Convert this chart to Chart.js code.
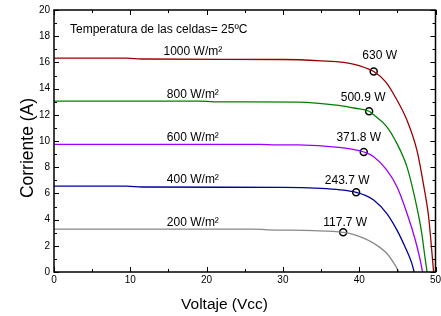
<!DOCTYPE html>
<html>
<head>
    <title>Curvas I-V</title>
    <script src="https://cdn.jsdelivr.net/npm/chart.js@4.4.0/dist/chart.umd.min.js"></script>
    <style>
        body { margin: 0; background: #fff; }
        #wrap { width: 441px; height: 316px; }
    </style>
</head>
<body>
    <div id="wrap"><canvas id="ivChart"></canvas></div>

    <script>
        // irradiance curves (V in volts, I in amps)
        var irradiance = ['1000 W/m²', '800 W/m²', '600 W/m²', '400 W/m²', '200 W/m²'];
        var curveColors = ['#990000', '#008000', '#9900ff', '#000099', '#888888'];

        var volt1000 = [0, 9.5, 11.5, 30, 35, 38, 40, 41.9, 43.5, 44.95, 46.25, 47.56, 48.4, 49.1, 49.5, 49.75];
        var amp1000  = [16.33, 16.33, 16.26, 16.22, 16.12, 16.0, 15.75, 15.3, 14.5, 13.13, 11.6, 9.3, 6.77, 4.2, 1.7, 0];

        var volt800 = [0, 19, 21, 32, 37.3, 39.5, 41.3, 41.9, 43.6, 44.95, 46.25, 47.35, 48.2, 48.6, 48.9];
        var amp800  = [13.05, 13.05, 12.99, 12.97, 12.72, 12.5, 12.27, 12.0, 11.1, 9.8, 8.04, 5.5, 2.95, 1.2, 0];

        var volt600 = [0, 27, 29, 32, 37.3, 39, 40.6, 41.9, 43.6, 44.95, 46.25, 47.35, 48.0, 48.3];
        var amp600  = [9.75, 9.75, 9.71, 9.7, 9.52, 9.38, 9.16, 8.8, 7.8, 6.5, 4.5, 2.44, 0.9, 0];

        var volt400 = [0, 9.5, 11.5, 30, 35, 37.5, 39.6, 40.8, 41.9, 43.6, 44.95, 46.0, 46.9, 47.2];
        var amp400  = [6.55, 6.55, 6.49, 6.46, 6.38, 6.27, 6.08, 5.85, 5.5, 4.48, 3.2, 1.93, 0.66, 0];

        var volt200 = [0, 26, 28, 34, 37.9, 39.2, 40.5, 41.9, 43.6, 44.7, 45.2];
        var amp200  = [3.28, 3.28, 3.22, 3.16, 3.03, 2.88, 2.6, 2.19, 1.43, 0.53, 0];

        // maximum power points
        var mppVolt = [41.9, 41.3, 40.6, 39.6, 37.9];
        var mppAmp  = [15.3, 12.27, 9.16, 6.08, 3.03];
        var mppPower = ['630 W', '500.9 W', '371.8 W', '243.7 W', '117.7 W'];

        var xTicks = [0, 10, 20, 30, 40, 50];
        var yTicks = [0, 2, 4, 6, 8, 10, 12, 14, 16, 18, 20];
        var note = 'Temperatura de las celdas= 25ºC';

        var volts = [volt1000, volt800, volt600, volt400, volt200];
        var amps = [amp1000, amp800, amp600, amp400, amp200];

        function toPoints(vs, is) {
            return vs.map(function (v, k) { return {x: v, y: is[k]}; });
        }

        var datasets = irradiance.map(function (name, k) {
            return {
                label: name,
                data: toPoints(volts[k], amps[k]),
                borderColor: curveColors[k],
                borderWidth: 1.3,
                pointRadius: 0,
                showLine: true,
                cubicInterpolationMode: 'monotone'
            };
        });
        datasets.push({
            label: 'Pmax',
            data: toPoints(mppVolt, mppAmp),
            showLine: false,
            pointRadius: 3.5,
            pointBorderWidth: 1.5,
            pointBorderColor: '#000',
            pointBackgroundColor: '#fff'
        });

        // nudges for the power labels, in pixels from each point
        var powerNudge = [[6, -16], [-6, -14], [-5, -14], [-9, -12], [2, -10]];

        var FONT = '"Liberation Sans", Arial, sans-serif';

        var framePlugin = {
            id: 'frame',
            afterDraw: function (chart) {
                var ctx = chart.ctx, a = chart.chartArea;
                var xs = chart.scales.x, ys = chart.scales.y;
                ctx.save();
                ctx.strokeStyle = '#000';
                ctx.lineWidth = 1.5;
                ctx.strokeRect(a.left, a.top, a.right - a.left, a.bottom - a.top);

                ctx.lineWidth = 1;
                ctx.beginPath();
                for (var v = 0; v <= 50; v += 5) {
                    var px = Math.round(xs.getPixelForValue(v)) + 0.5;
                    var len = v % 10 === 0 ? 5 : 3;
                    ctx.moveTo(px, a.bottom); ctx.lineTo(px, a.bottom - len);
                    ctx.moveTo(px, a.top); ctx.lineTo(px, a.top + len);
                }
                for (var i = 0; i <= 20; i += 1) {
                    var py = Math.round(ys.getPixelForValue(i)) + 0.5;
                    var l2 = i % 2 === 0 ? 5 : 3;
                    ctx.moveTo(a.left, py); ctx.lineTo(a.left + l2, py);
                    ctx.moveTo(a.right, py); ctx.lineTo(a.right - l2, py);
                }
                ctx.stroke();

                ctx.fillStyle = '#000';
                ctx.font = '10px ' + FONT;
                ctx.textAlign = 'center';
                ctx.textBaseline = 'top';
                xTicks.forEach(function (t) {
                    ctx.fillText(String(t), xs.getPixelForValue(t), a.bottom + 3);
                });
                ctx.textAlign = 'right';
                ctx.textBaseline = 'middle';
                yTicks.forEach(function (t) {
                    ctx.fillText(String(t), a.left - 4, ys.getPixelForValue(t));
                });

                // axis titles
                ctx.textAlign = 'center';
                ctx.font = '15.5px ' + FONT;
                ctx.fillText('Voltaje (Vcc)', a.left + (a.right - a.left) * 0.447, 305);
                ctx.save();
                ctx.translate(28, 148);
                ctx.rotate(-Math.PI / 2);
                ctx.font = '17.5px ' + FONT;
                ctx.fillText('Corriente (A)', 0, 0);
                ctx.restore();

                // annotations
                ctx.font = '12px ' + FONT;
                ctx.textAlign = 'left';
                ctx.fillText(note, a.left + 16, 30);

                ctx.textAlign = 'center';
                ctx.textBaseline = 'alphabetic';
                irradiance.forEach(function (name, k) {
                    ctx.fillText(name, xs.getPixelForValue(18.2), ys.getPixelForValue(amps[k][0]) - 3);
                });
                ctx.textBaseline = 'middle';
                mppPower.forEach(function (txt, k) {
                    var px = xs.getPixelForValue(mppVolt[k]) + powerNudge[k][0];
                    var py = ys.getPixelForValue(mppAmp[k]) + powerNudge[k][1];
                    ctx.fillText(txt, px, py);
                });
                ctx.restore();
            }
        };

        new Chart('ivChart', {
            type: 'scatter',
            data: {datasets: datasets},
            options: {
                responsive: true,
                maintainAspectRatio: false,
                animation: false,
                layout: {padding: {left: 54, right: 4, top: 10, bottom: 44}},
                plugins: {legend: {display: false}, tooltip: {enabled: false}},
                scales: {
                    x: {
                        type: 'linear', min: 0, max: 50,
                        ticks: {display: false},
                        grid: {display: false, drawTicks: false},
                        border: {display: false}
                    },
                    y: {
                        type: 'linear', min: 0, max: 20,
                        ticks: {display: false},
                        grid: {display: false, drawTicks: false},
                        border: {display: false}
                    }
                }
            },
            plugins: [framePlugin]
        });
    </script>
</body>
</html>
